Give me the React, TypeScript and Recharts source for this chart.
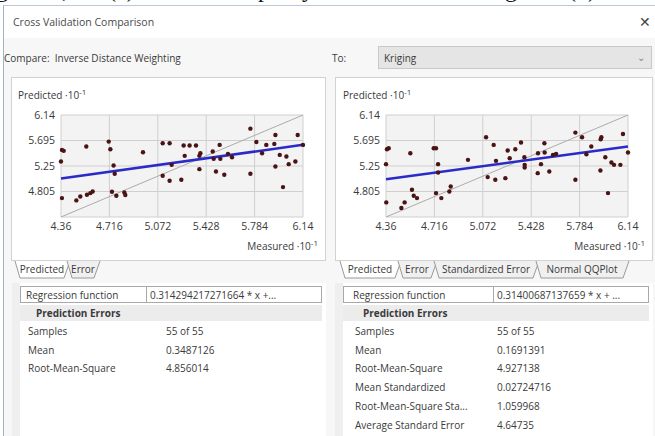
import { ScatterChart, Scatter, XAxis, YAxis, CartesianGrid, ReferenceLine } from "recharts"

const X_TICKS = [4.36, 4.716, 5.072, 5.428, 5.784, 6.14]
const Y_TICKS = [4.36, 4.805, 5.25, 5.695, 6.14]

// Inverse Distance Weighting: measured (x) vs predicted (y), 10^-1
const IDW_POINTS = [
  { x: 4.36, y: 5.328 }, { x: 4.367, y: 5.531 }, { x: 4.38, y: 5.514 }, { x: 4.367, y: 4.69 },
  { x: 4.473, y: 4.65 }, { x: 4.502, y: 4.719 }, { x: 4.546, y: 5.589 }, { x: 4.551, y: 4.748 },
  { x: 4.576, y: 4.777 }, { x: 4.593, y: 4.806 }, { x: 4.711, y: 5.676 }, { x: 4.723, y: 5.543 },
  { x: 4.747, y: 5.259 }, { x: 4.755, y: 5.114 }, { x: 4.735, y: 4.801 }, { x: 4.767, y: 4.731 },
  { x: 4.826, y: 4.789 }, { x: 4.833, y: 4.743 }, { x: 4.963, y: 5.491 }, { x: 5.108, y: 5.647 },
  { x: 5.159, y: 5.647 }, { x: 5.108, y: 5.079 }, { x: 5.159, y: 4.992 }, { x: 5.174, y: 5.27 },
  { x: 5.245, y: 5.009 }, { x: 5.262, y: 5.607 }, { x: 5.27, y: 5.427 }, { x: 5.306, y: 5.607 },
  { x: 5.353, y: 5.607 }, { x: 5.378, y: 5.427 }, { x: 5.385, y: 5.473 }, { x: 5.378, y: 5.195 },
  { x: 5.476, y: 5.502 }, { x: 5.483, y: 5.375 }, { x: 5.5, y: 5.154 }, { x: 5.527, y: 5.618 },
  { x: 5.532, y: 5.375 }, { x: 5.561, y: 5.096 }, { x: 5.588, y: 5.462 }, { x: 5.618, y: 5.404 },
  { x: 5.753, y: 5.902 }, { x: 5.753, y: 5.114 }, { x: 5.797, y: 5.67 }, { x: 5.839, y: 5.473 },
  { x: 5.87, y: 5.618 }, { x: 5.937, y: 5.792 }, { x: 5.929, y: 5.636 }, { x: 5.937, y: 5.241 },
  { x: 5.969, y: 5.444 }, { x: 5.993, y: 4.882 }, { x: 6.018, y: 5.415 }, { x: 6.035, y: 5.282 },
  { x: 6.084, y: 5.328 }, { x: 6.101, y: 5.792 }, { x: 6.14, y: 5.618 },
]

// Kriging
const KRIGING_POINTS = [
  { x: 4.36, y: 5.282 }, { x: 4.367, y: 5.543 }, { x: 4.38, y: 5.56 }, { x: 4.362, y: 4.615 },
  { x: 4.473, y: 4.517 }, { x: 4.497, y: 4.615 }, { x: 4.539, y: 5.473 }, { x: 4.551, y: 4.835 },
  { x: 4.564, y: 4.731 }, { x: 4.588, y: 4.69 }, { x: 4.711, y: 5.56 }, { x: 4.728, y: 5.56 },
  { x: 4.743, y: 5.282 }, { x: 4.743, y: 5.137 }, { x: 4.728, y: 4.777 }, { x: 4.767, y: 4.69 },
  { x: 4.826, y: 4.806 }, { x: 4.836, y: 4.893 }, { x: 4.963, y: 5.357 }, { x: 5.096, y: 5.752 },
  { x: 5.108, y: 5.056 }, { x: 5.152, y: 5.618 }, { x: 5.164, y: 5.009 }, { x: 5.169, y: 5.34 },
  { x: 5.238, y: 5.038 }, { x: 5.255, y: 5.52 }, { x: 5.27, y: 5.386 }, { x: 5.311, y: 5.543 },
  { x: 5.353, y: 5.659 }, { x: 5.378, y: 5.404 }, { x: 5.38, y: 5.27 }, { x: 5.38, y: 5.224 },
  { x: 5.476, y: 5.125 }, { x: 5.478, y: 5.473 }, { x: 5.5, y: 5.282 }, { x: 5.525, y: 5.647 },
  { x: 5.527, y: 5.485 }, { x: 5.561, y: 5.154 }, { x: 5.588, y: 5.444 }, { x: 5.611, y: 5.462 },
  { x: 5.753, y: 5.833 }, { x: 5.753, y: 5.009 }, { x: 5.802, y: 5.752 }, { x: 5.834, y: 5.456 },
  { x: 5.87, y: 5.589 }, { x: 5.937, y: 5.172 }, { x: 5.939, y: 5.717 }, { x: 5.944, y: 5.752 },
  { x: 5.973, y: 5.404 }, { x: 5.993, y: 4.777 }, { x: 6.018, y: 5.311 }, { x: 6.037, y: 5.27 },
  { x: 6.084, y: 5.27 }, { x: 6.103, y: 5.809 }, { x: 6.14, y: 5.485 },
]

const IDW_REGRESSION = [{ x: 4.36, y: 5.03 }, { x: 6.14, y: 5.62 }]
const KRIGING_REGRESSION = [{ x: 4.36, y: 5.02 }, { x: 6.14, y: 5.59 }]
const IDENTITY_LINE = [{ x: 4.36, y: 4.36 }, { x: 6.14, y: 6.14 }]

const IDW_REGRESSION_TEXT = "0.314294217271664 * x +..."
const KRIGING_REGRESSION_TEXT = "0.31400687137659 * x + ..."

const IDW_STATS = [
  ["Samples", "55 of 55"],
  ["Mean", "0.3487126"],
  ["Root-Mean-Square", "4.856014"],
]
const KRIGING_STATS = [
  ["Samples", "55 of 55"],
  ["Mean", "0.1691391"],
  ["Root-Mean-Square", "4.927138"],
  ["Mean Standardized", "0.02724716"],
  ["Root-Mean-Square Sta...", "1.059968"],
  ["Average Standard Error", "4.64735"],
]

const IDW_TABS = ["Predicted", "Error"]
const KRIGING_TABS = ["Predicted", "Error", "Standardized Error", "Normal QQPlot"]

const UI_FONT = "'Open Sans', 'Noto Sans', sans-serif"
const TEXT = "#3a3a3a"

const Dot = (props: any) => <circle cx={props.cx} cy={props.cy} r={2.2} fill="#4a1414" />

function Plot({ points, regression, left, width }: { points: { x: number; y: number }[]; regression: { x: number; y: number }[]; left: number; width: number }) {
  const fmt = (v: number) => String(v)
  return (
    <div style={{ position: "absolute", left, top: 107 }}>
      <ScatterChart width={width} height={150} margin={{ top: 8, right: width - 49 - 242, bottom: 0, left: 0 }}>
        <CartesianGrid fill="#f3f3f3" stroke="#cfcfcf" />
        <XAxis
          dataKey="x"
          type="number"
          domain={[4.36, 6.14]}
          ticks={X_TICKS}
          tickFormatter={fmt}
          axisLine={false}
          tickLine={false}
          tickSize={0}
          tickMargin={6}
          height={40}
          tick={{ fontSize: 10.5, fill: TEXT, fontFamily: UI_FONT }}
        />
        <YAxis
          dataKey="y"
          type="number"
          domain={[4.36, 6.14]}
          ticks={Y_TICKS}
          tickFormatter={(v: number) => (v === 4.36 ? "" : String(v))}
          axisLine={false}
          tickLine={false}
          tickSize={0}
          tickMargin={6}
          width={49}
          tick={{ fontSize: 10.5, fill: TEXT, fontFamily: UI_FONT }}
        />
        <ReferenceLine segment={IDENTITY_LINE} stroke="#ababab" strokeWidth={1} />
        <ReferenceLine segment={regression} stroke="#2a2ac8" strokeWidth={2.5} />
        <Scatter data={points} shape={Dot} isAnimationActive={false} />
      </ScatterChart>
    </div>
  )
}

function AxisTitle({ text, style }: { text: string; style: React.CSSProperties }) {
  return (
    <div style={{ position: "absolute", fontSize: 10, color: TEXT, fontFamily: UI_FONT, whiteSpace: "nowrap", ...style }}>
      {text} ·10<sup style={{ fontSize: 8, verticalAlign: 4 }}>-1</sup>
    </div>
  )
}

function Tabs({ labels, left, widths }: { labels: string[]; left: number; widths: number[] }) {
  let x = 0
  const shapes = labels.map((label, i) => {
    const w = widths[i]
    const x0 = x
    x += w
    return (
      <g key={label}>
        <path
          d={`M${x0 + 1},0 L${x0 + 6},17 L${x0 + w - 2},17 L${x0 + w + 4},0`}
          fill={i === 0 ? "#ffffff" : "#f0f0f0"}
          stroke="#9a9a9a"
          strokeWidth={1}
        />
        <text x={x0 + w / 2 + 2} y={12} textAnchor="middle" fontSize={10} fill={TEXT} fontFamily={UI_FONT}>
          {label}
        </text>
      </g>
    )
  })
  return (
    <svg style={{ position: "absolute", left, top: 261 }} width={x + 10} height={20}>
      {shapes}
    </svg>
  )
}

function StatsTable({ left, width, split, labelX, valueX, regressionText, stats }: { left: number; width: number; split: number; labelX: number; valueX: number; regressionText: string; stats: string[][] }) {
  return (
    <div style={{ position: "absolute", left, top: 283, width, height: 153, background: "#ffffff", fontFamily: UI_FONT, fontSize: 10, color: TEXT }}>
      <div style={{ position: "absolute", left: 0, top: 0, width: 8, height: 153, background: "#efefef" }} />
      <div style={{ position: "absolute", left: 8, top: 3, width: width - 12, height: 17, border: "1px solid #a9a9a9", boxSizing: "border-box" }}>
        <div style={{ position: "absolute", left: split - 8, top: 0, width: 1, height: 15, background: "#a9a9a9" }} />
        <div style={{ position: "absolute", left: labelX - 9, top: 1 }}>Regression function</div>
        <div style={{ position: "absolute", left: split - 4, top: 1, whiteSpace: "nowrap" }}>{regressionText}</div>
      </div>
      <div style={{ position: "absolute", left: 8, top: 22, width: width - 12, height: 16, background: "#ececec" }}>
        <div style={{ position: "absolute", left: labelX + 2, top: 1, fontWeight: 700 }}>Prediction Errors</div>
      </div>
      {stats.map(([label, value], i) => (
        <div key={label} style={{ position: "absolute", left: 0, top: 41 + i * 18.7, width }}>
          <span style={{ position: "absolute", left: labelX + 2 }}>{label}</span>
          <span style={{ position: "absolute", left: valueX }}>{value}</span>
        </div>
      ))}
    </div>
  )
}

export default function App() {
  return (
    <div style={{ position: "absolute", left: 0, top: 0, width: 655, height: 436, overflow: "hidden", background: "#ffffff", fontFamily: UI_FONT }}>
      {/* clipped caption line of the surrounding document */}
      <div style={{ position: "absolute", left: 0, top: -23, width: 655, fontFamily: "'Liberation Serif', serif", fontSize: 24, lineHeight: "24px", color: "#111" }}>
        <span style={{ position: "absolute", left: -4 }}>g</span>
        <span style={{ position: "absolute", left: 62 }}>,</span>
        <span style={{ position: "absolute", left: 108 }}>(a)</span>
        <span style={{ position: "absolute", left: 258 }}>p</span>
        <span style={{ position: "absolute", left: 302 }}>y</span>
        <span style={{ position: "absolute", left: 505 }}>g</span>
        <span style={{ position: "absolute", left: 568 }}>(b)</span>
      </div>

      {/* dialog */}
      <div style={{ position: "absolute", left: 3, top: 5, width: 652, height: 431, background: "#f7f7f7", borderLeft: "1px solid #9fb3c8", borderTop: "1px solid #b9c9da" }} />
      <div style={{ position: "absolute", left: 4, top: 6, width: 651, height: 32, background: "#ffffff" }} />
      <div style={{ position: "absolute", left: 13, top: 15, fontSize: 10.5, color: "#4a4a4a" }}>Cross Validation Comparison</div>
      <div style={{ position: "absolute", left: 639, top: 12, fontSize: 14, color: "#444" }}>✕</div>

      <div style={{ position: "absolute", left: 4, top: 51, fontSize: 10, color: TEXT, whiteSpace: "pre" }}>Compare:  Inverse Distance Weighting</div>
      <div style={{ position: "absolute", left: 332, top: 51, fontSize: 10, color: TEXT }}>To:</div>
      <div style={{ position: "absolute", left: 378, top: 46, width: 274, height: 23, background: "#e5e5e5", border: "1px solid #c8c8c8", boxSizing: "border-box" }}>
        <div style={{ position: "absolute", left: 5, top: 4, fontSize: 10, color: TEXT }}>Kriging</div>
        <div style={{ position: "absolute", right: 6, top: 3, fontSize: 10, color: "#888" }}>⌄</div>
      </div>

      {/* chart panels */}
      <div style={{ position: "absolute", left: 11, top: 77, width: 315, height: 184, background: "#ffffff", border: "1px solid #d2d2d2", boxSizing: "border-box" }} />
      <div style={{ position: "absolute", left: 335, top: 77, width: 318, height: 184, background: "#ffffff", border: "1px solid #d2d2d2", boxSizing: "border-box" }} />

      <AxisTitle text="Predicted" style={{ left: 18, top: 86 }} />
      <AxisTitle text="Predicted" style={{ left: 343, top: 86 }} />
      <Plot points={IDW_POINTS} regression={IDW_REGRESSION} left={12} width={313} />
      <Plot points={KRIGING_POINTS} regression={KRIGING_REGRESSION} left={337} width={315} />
      <AxisTitle text="Measured" style={{ right: 655 - 318, top: 237 }} />
      <AxisTitle text="Measured" style={{ right: 655 - 645, top: 237 }} />

      <Tabs labels={IDW_TABS} left={14} widths={[52, 30]} />
      <Tabs labels={KRIGING_TABS} left={339} widths={[58, 36, 102, 90]} />

      <StatsTable left={12} width={314} split={133} labelX={14} valueX={154} regressionText={IDW_REGRESSION_TEXT} stats={IDW_STATS} />
      <StatsTable left={335} width={318} split={157} labelX={18} valueX={162} regressionText={KRIGING_REGRESSION_TEXT} stats={KRIGING_STATS} />
    </div>
  )
}
